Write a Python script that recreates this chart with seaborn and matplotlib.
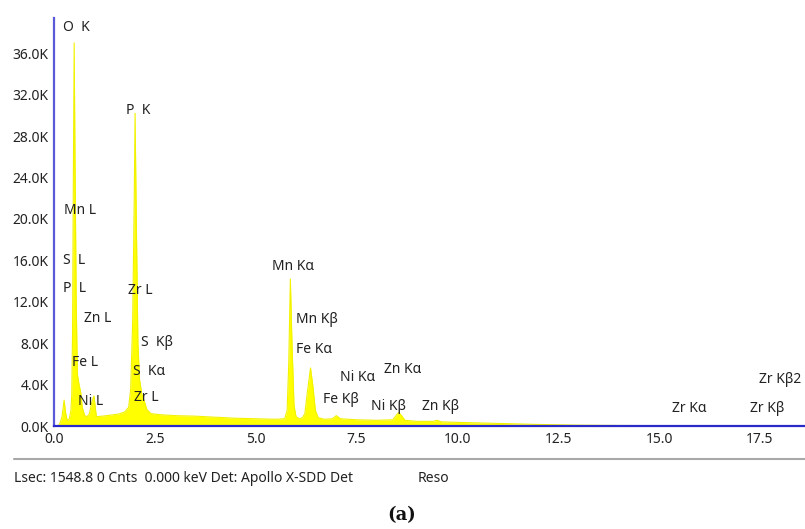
import numpy as np
import pandas as pd
import seaborn as sns
import matplotlib.pyplot as plt
from matplotlib.ticker import FuncFormatter, MultipleLocator
from matplotlib.lines import Line2D

# EDS spectrum (energy in keV, counts)
energy = [0.00, 0.10, 0.15, 0.20, 0.25, 0.29, 0.33, 0.38, 0.42, 0.44, 0.46, 0.48, 0.50,
          0.52, 0.55, 0.58, 0.62, 0.66, 0.70, 0.76, 0.82, 0.88, 0.93, 0.99, 1.05, 1.20,
          1.40, 1.60, 1.75, 1.85, 1.90, 1.95, 1.99, 2.01, 2.04, 2.08, 2.12, 2.18, 2.24,
          2.30, 2.40, 2.60, 3.00, 3.50, 4.00, 4.50, 5.00, 5.50, 5.72, 5.78, 5.82, 5.86,
          5.90, 5.95, 6.00, 6.08, 6.16, 6.22, 6.28, 6.36, 6.42, 6.48, 6.55, 6.70, 6.90,
          7.00, 7.10, 7.50, 8.00, 8.40, 8.50, 8.55, 8.62, 8.70, 9.00, 9.40, 9.50, 9.60,
          10.0, 11.0, 12.0, 13.0, 14.0, 15.0, 16.0, 18.6]
counts = [0, 0, 300, 900, 2500, 1200, 500, 700, 1500, 3000, 9000, 24000, 37000,
          26000, 12000, 5000, 4000, 3300, 1800, 1000, 900, 1200, 2200, 2900, 900, 950,
          1050, 1150, 1350, 1800, 3500, 10000, 22000, 30200, 20000, 8000, 4500, 3000, 2400,
          1600, 1200, 1100, 1000, 950, 850, 750, 700, 650, 700, 1500, 6000, 14200,
          8000, 2000, 900, 700, 800, 1200, 3200, 5600, 3800, 1500, 800, 650, 700,
          1000, 700, 600, 550, 600, 1100, 1300, 1000, 550, 450, 450, 550, 400,
          350, 250, 150, 80, 50, 30, 0, 0]

# peak labels: text, energy, counts where the label sits
peak_names = ["O  K", "P  K", "Mn L", "S  L", "P  L", "Zn L", "Fe L", "Ni L",
              "Zr L", "S  K\u03b2", "S  K\u03b1", "Zr L", "Mn K\u03b1", "Mn K\u03b2",
              "Fe K\u03b1", "Ni K\u03b1", "Zn K\u03b1", "Fe K\u03b2", "Ni K\u03b2",
              "Zn K\u03b2", "Zr K\u03b1", "Zr K\u03b2", "Zr K\u03b22"]
peak_x = [0.22, 1.78, 0.25, 0.22, 0.22, 0.74, 0.45, 0.59,
          1.83, 2.15, 1.96, 1.98, 5.40, 6.01,
          5.99, 7.08, 8.19, 6.66, 7.87,
          9.13, 15.32, 17.25, 17.48]
peak_y = [38500, 30500, 20800, 16000, 13300, 10400, 6100, 2400,
          13100, 8100, 5300, 2800, 15400, 10300,
          7400, 4700, 5500, 2600, 1900,
          1900, 1700, 1700, 4500]

df = pd.DataFrame({"energy": energy, "counts": counts})

sns.set_theme(style="white")
plt.rcParams['font.family'] = ['Noto Sans', 'DejaVu Sans']

fig = plt.figure(figsize=(8.05, 5.29), dpi=100)
ax = fig.add_axes([54/805, 103/529, 751/805, 408/529])

ax.fill_between(df["energy"], df["counts"], color="#ffff00", linewidth=0)
sns.lineplot(data=df, x="energy", y="counts", color="#f2f200", linewidth=0.8,
             sort=False, ax=ax)

for name, px, py in zip(peak_names, peak_x, peak_y):
    ax.text(px, py, name, fontsize=10, color="#222222", va="center", ha="left")

ax.set_xlim(0, 18.62)
ax.set_ylim(0, 39400)
ax.xaxis.set_major_locator(MultipleLocator(2.5))
ax.yaxis.set_major_locator(MultipleLocator(4000))
ax.xaxis.set_major_formatter(FuncFormatter(lambda v, p: f"{v:.1f}"))
ax.yaxis.set_major_formatter(FuncFormatter(lambda v, p: f"{v/1000:.1f}K"))
ax.tick_params(axis="both", labelsize=10, length=3, width=0.8, color="#999999",
               labelcolor="#222222", pad=1)
ax.set_xlabel("")
ax.set_ylabel("")

for s in ["top", "right"]:
    ax.spines[s].set_visible(False)
ax.spines["left"].set_color("#5a5ad8")
ax.spines["left"].set_linewidth(1.6)
ax.spines["bottom"].set_color("#2a2ac8")
ax.spines["bottom"].set_linewidth(1.6)

# status bar under the spectrum
fig.add_artist(Line2D([14/805, 1.0], [70/529, 70/529], color="#a8a8a8", linewidth=1.5))
fig.text(14/805, 50/529, "Lsec: 1548.8 0 Cnts  0.000 keV Det: Apollo X-SDD Det",
         fontsize=10, color="#222222", va="center", ha="left")
fig.text(418/805, 50/529, "Reso", fontsize=10, color="#222222", va="center", ha="left")
fig.text(402/805, 14/529, "(a)", fontsize=13, fontweight="bold",
         family="DejaVu Serif", color="#111111", va="center", ha="center")

plt.savefig("out.png", dpi=100)
